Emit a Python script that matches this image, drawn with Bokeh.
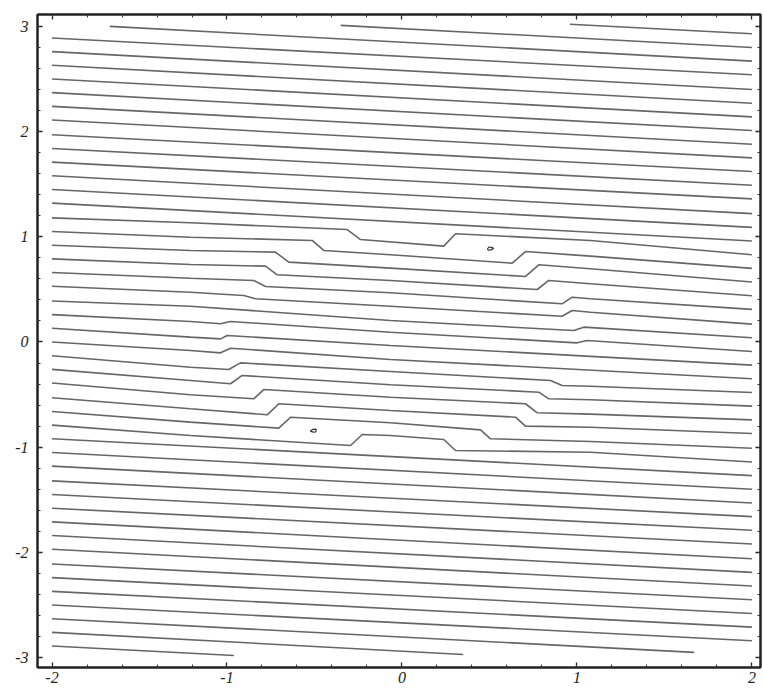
from bokeh.plotting import figure
from bokeh.models import Range1d, LinearAxis, SingleIntervalTicker, CustomJSTickFormatter
from bokeh.embed import file_html
from bokeh.resources import INLINE

# ---- data (contour lines, data coordinates) ----
# straight contours: y at x=-2 and y at x=2
straight_left_y = [2.89, 2.76, 2.63, 2.50, 2.37, 2.24, 2.11, 1.97, 1.84, 1.71, 1.58, 1.45, 1.32,
                   -0.92, -1.05, -1.18, -1.32, -1.45, -1.58, -1.71, -1.84, -1.97, -2.11, -2.24, -2.37, -2.50]
straight_right_y = [2.54, 2.40, 2.27, 2.14, 2.01, 1.88, 1.75, 1.62, 1.49, 1.36, 1.22, 1.09, 0.96,
                    -1.27, -1.40, -1.53, -1.66, -1.79, -1.92, -2.06, -2.19, -2.32, -2.45, -2.58, -2.71, -2.84]

# contours entering through the top edge
top_entry_x = [0.96, -0.35, -1.67]
top_entry_y = [3.02, 3.01, 3.00]
top_right_y = [2.93, 2.80, 2.67]

# contours leaving through the bottom edge
bottom_left_y = [-2.63, -2.76, -2.89]
bottom_exit_x = [1.67, 0.35, -0.96]
bottom_exit_y = [-2.95, -2.97, -2.98]

# bent contours around the centre
bent_x = [
    [-2, -1.209, -0.313, -0.237, 0.239, 0.306, 1.077, 2],
    [-2, -1.209, -0.513, -0.447, -0.066, 0.630, 0.706, 1.077, 2],
    [-2, -1.209, -0.723, -0.647, -0.066, 0.706, 0.782, 1.077, 2],
    [-2, -1.209, -0.780, -0.713, -0.066, 0.773, 0.839, 1.077, 2],
    [-2, -1.209, -0.847, -0.780, -0.066, 0.915, 0.973, 1.077, 2],
    [-2, -1.209, -0.904, -0.837, -0.066, 0.915, 0.973, 1.077, 2],
    [-2, -1.209, -0.066, 0.982, 1.039, 2],
    [-2, -1.209, -1.037, -0.980, -0.066, 1.001, 1.058, 2],
    [-2, -1.209, -1.037, -0.999, -0.066, 2],
    [-2, -1.209, -1.037, -0.980, -0.066, 2],
    [-2, -1.209, -0.990, -0.923, -0.066, 0.849, 0.915, 1.077, 2],
    [-2, -1.209, -0.980, -0.913, -0.066, 0.782, 0.839, 1.077, 2],
    [-2, -1.209, -0.847, -0.790, -0.066, 0.706, 0.773, 1.077, 2],
    [-2, -1.209, -0.770, -0.704, -0.066, 0.649, 0.706, 1.077, 2],
    [-2, -1.209, -0.704, -0.637, -0.066, 0.449, 0.506, 1.077, 2],
    [-2, -1.209, -0.294, -0.227, -0.066, 0.239, 0.306, 1.077, 2],
]
bent_y = [
    [1.18, 1.133, 1.069, 0.974, 0.911, 1.029, 0.965, 0.83],
    [1.05, 0.996, 0.965, 0.870, 0.829, 0.749, 0.860, 0.816, 0.70],
    [0.92, 0.870, 0.854, 0.759, 0.702, 0.623, 0.734, 0.696, 0.57],
    [0.79, 0.737, 0.721, 0.639, 0.585, 0.499, 0.585, 0.553, 0.44],
    [0.66, 0.606, 0.585, 0.528, 0.468, 0.363, 0.426, 0.411, 0.31],
    [0.53, 0.473, 0.442, 0.411, 0.340, 0.245, 0.299, 0.283, 0.17],
    [0.39, 0.340, 0.204, 0.109, 0.141, 0.04],
    [0.26, 0.195, 0.173, 0.195, 0.093, -0.008, 0.014, -0.09],
    [0.13, 0.046, 0.030, 0.062, -0.033, -0.22],
    [0.00, -0.081, -0.103, -0.059, -0.166, -0.35],
    [-0.13, -0.240, -0.261, -0.198, -0.280, -0.366, -0.413, -0.420, -0.48],
    [-0.26, -0.366, -0.397, -0.318, -0.407, -0.477, -0.540, -0.549, -0.61],
    [-0.39, -0.502, -0.540, -0.452, -0.525, -0.587, -0.673, -0.686, -0.74],
    [-0.53, -0.635, -0.692, -0.587, -0.651, -0.715, -0.800, -0.810, -0.87],
    [-0.66, -0.762, -0.819, -0.715, -0.768, -0.835, -0.920, -0.946, -1.01],
    [-0.79, -0.889, -0.984, -0.879, -0.889, -0.927, -1.031, -1.048, -1.14],
]

# two tiny closed contours
blob_x = [[0.488, 0.497, 0.512, 0.524, 0.510, 0.494, 0.488],
          [-0.488, -0.497, -0.512, -0.524, -0.510, -0.494, -0.488]]
blob_y = [[0.884, 0.903, 0.900, 0.890, 0.876, 0.874, 0.884],
          [-0.839, -0.858, -0.855, -0.845, -0.831, -0.829, -0.839]]

x_ticks = [-2, -1, 0, 1, 2]
y_ticks = [-3, -2, -1, 0, 1, 2, 3]

# ---- build line lists ----
xs, ys = [], []
for ly, ry in zip(straight_left_y, straight_right_y):
    xs.append([-2, 2]); ys.append([ly, ry])
for ex, ey, ry in zip(top_entry_x, top_entry_y, top_right_y):
    xs.append([ex, 2]); ys.append([ey, ry])
for ly, ex, ey in zip(bottom_left_y, bottom_exit_x, bottom_exit_y):
    xs.append([-2, ex]); ys.append([ly, ey])
for bx, by in zip(bent_x, bent_y):
    xs.append(bx); ys.append(by)

p = figure(width=763, height=693, output_backend="svg", toolbar_location=None,
           x_range=Range1d(-2.083, 2.049), y_range=Range1d(-3.094, 3.113),
           min_border_left=37, min_border_right=3, min_border_top=14, min_border_bottom=26)
p.grid.visible = False
p.background_fill_color = "white"
p.border_fill_color = "white"
p.outline_line_color = "#222222"
p.outline_line_width = 2

bottom_ax = p.below[0]
left_ax = p.left[0]

LINE = "#666666"
p.multi_line(xs, ys, line_color=LINE, line_width=1.6)
p.multi_line(blob_x, blob_y, line_color="#333333", line_width=1.2)

blank = CustomJSTickFormatter(code="return '';")
above_ax = LinearAxis(formatter=blank, major_label_standoff=0)
right_ax = LinearAxis(formatter=blank, major_label_standoff=0)
p.add_layout(above_ax, "above")
p.add_layout(right_ax, "right")

FONT = "Liberation Serif"
for ax in [bottom_ax, left_ax, above_ax, right_ax]:
    ax.ticker = SingleIntervalTicker(interval=1, num_minor_ticks=5)
    ax.major_tick_in = 5
    ax.major_tick_out = 0
    ax.minor_tick_in = 3
    ax.minor_tick_out = 0
    ax.axis_line_color = "#222222"
    ax.axis_line_width = 2
    ax.major_tick_line_color = "#222222"
    ax.major_tick_line_width = 1.3
    ax.minor_tick_line_color = "#333333"
    ax.minor_tick_line_width = 1

bottom_ax.major_label_overrides = {t: str(t) for t in x_ticks}
bottom_ax.major_label_text_font = FONT
bottom_ax.major_label_text_font_style = "italic"
bottom_ax.major_label_text_font_size = "16px"
bottom_ax.major_label_text_color = "#222222"
bottom_ax.major_label_standoff = 4

left_ax.major_label_overrides = {t: str(t) for t in y_ticks}
left_ax.major_label_text_font = FONT
left_ax.major_label_text_font_style = "italic"
left_ax.major_label_text_font_size = "16px"
left_ax.major_label_text_color = "#222222"
left_ax.major_label_standoff = 9
left_ax.major_label_orientation = "horizontal"

open("out.html", "w").write(file_html(p, INLINE))
